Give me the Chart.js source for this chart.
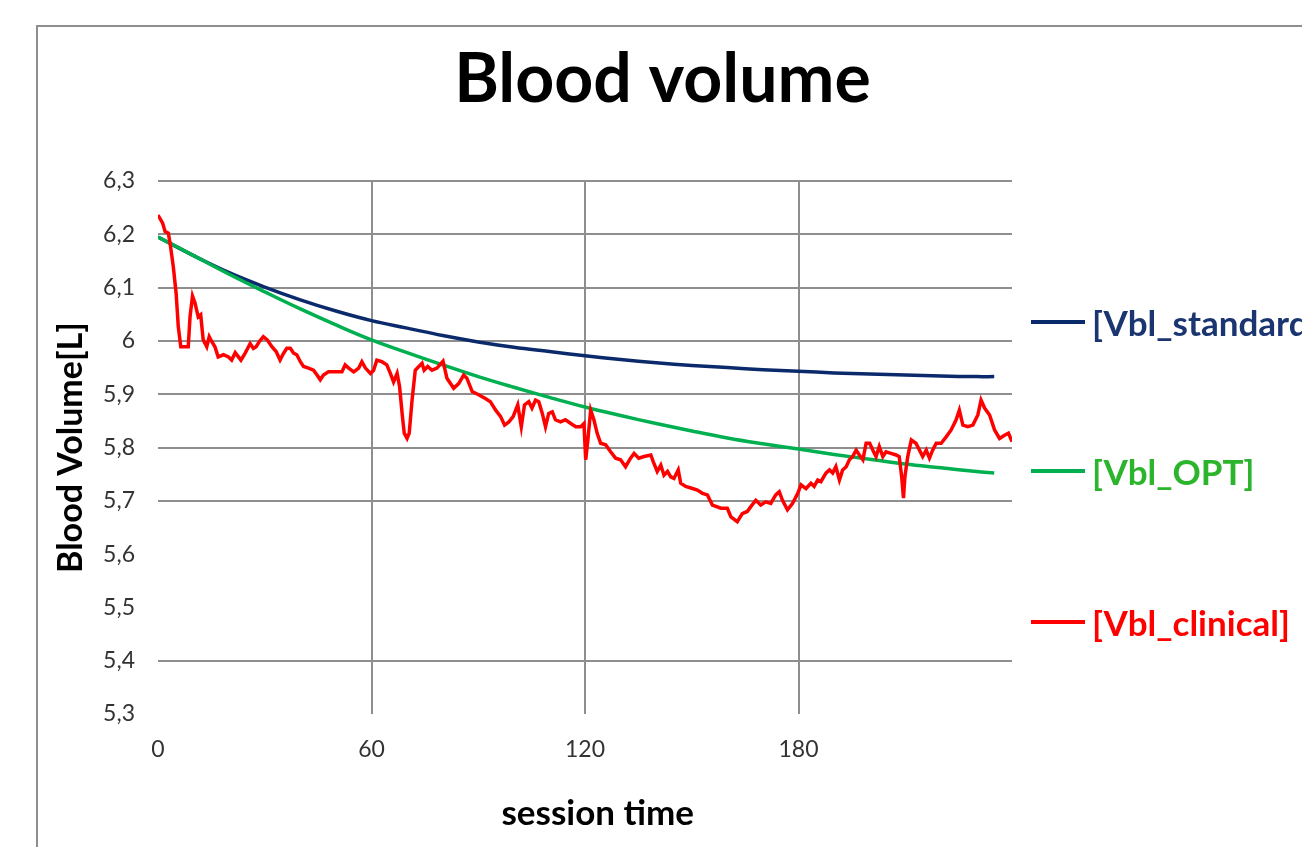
<!DOCTYPE html>
<html><head><meta charset="utf-8">
<script src="https://cdn.jsdelivr.net/npm/chart.js@4"></script>
<style>
html,body{margin:0;padding:0;background:#fff;overflow:hidden;width:1302px;height:847px;}
#frame{position:absolute;left:36px;top:25px;width:1400px;height:1000px;border:2px solid #8e8e8e;box-sizing:border-box;}
#c{position:absolute;left:0;top:0;}
</style></head><body>
<div id="frame"></div>
<canvas id="c" width="1325" height="870"></canvas>
<script>
// ---- data ----
const chartTitle = 'Blood volume';
const xAxisTitle = 'session time';
const yAxisTitle = 'Blood Volume[L]';
const xTickValues = [0, 60, 120, 180];
const seriesLabels = ['[Vbl_standard]', '[Vbl_OPT]', '[Vbl_clinical]'];

const modelTime = [0,10,20,30,40,50,60,70,80,90,100,110,120,130,140,150,160,170,180,190,200,210,220,230,235];
const standardValues = [6.195,6.160,6.128,6.101,6.077,6.056,6.038,6.024,6.010,5.998,5.988,5.980,5.972,5.965,5.959,5.954,5.950,5.946,5.943,5.940,5.938,5.936,5.934,5.933,5.933];
const optValues = [6.195,6.160,6.125,6.092,6.060,6.030,6.002,5.978,5.955,5.933,5.913,5.894,5.876,5.860,5.845,5.831,5.818,5.807,5.797,5.787,5.778,5.769,5.762,5.755,5.752];

const clinicalTime = [0,1.3,2.0,2.9,3.4,4.3,5.1,5.7,6.4,7.6,8.5,9.0,9.7,10.4,11.3,12.0,12.7,13.7,14.4,15.1,16.0,16.9,18.4,19.8,20.7,21.7,22.6,23.3,24.5,25.9,26.8,27.6,28.5,29.6,30.7,32.0,33.2,34.3,35.3,36.2,37.2,38.1,39.0,40.0,40.9,42.3,43.7,44.7,45.6,46.5,47.9,49.8,51.7,52.6,53.6,55.0,56.4,57.3,58.3,59.7,60.6,61.5,62.9,64.3,65.3,66.2,67.2,67.9,68.6,69.2,70.0,70.6,71.4,72.3,73.3,74.2,74.8,75.8,77.0,78.4,80.1,81.2,83.1,84.5,85.9,86.8,88.3,90.1,92.0,93.4,94.9,96.3,97.4,98.6,99.8,101.1,102.1,103.0,104.2,105.1,106.1,107.0,108.0,108.9,109.8,110.8,111.7,113.1,114.5,116.0,117.4,118.8,119.7,120.2,120.8,121.6,122.5,123.4,124.4,125.8,127.2,128.6,130.0,131.4,132.8,133.8,135.1,136.6,138.5,139.2,140.3,141.3,142.2,143.2,144.1,145.0,146.2,146.9,148.3,150.2,151.6,153.0,154.4,155.8,158.2,160.0,161.0,162.8,164.2,165.6,166.6,168.0,169.4,170.8,172.2,173.6,174.6,175.5,176.9,178.3,179.8,180.7,182.1,183.5,184.4,185.4,186.3,187.7,188.7,189.6,190.5,191.5,192.4,193.4,194.3,195.2,196.2,197.1,198.1,199.0,200.0,200.9,201.8,202.7,203.7,204.6,206.0,207.4,208.3,209.0,209.5,209.9,210.7,211.7,213.0,214.0,214.9,215.9,216.8,217.7,218.7,220.1,221.5,222.9,224.3,225.2,226.2,227.6,229.0,230.4,231.3,232.3,233.7,235.1,236.5,237.9,239.0,240.0];
const clinicalValues = [6.236,6.221,6.205,6.202,6.183,6.139,6.089,6.027,5.989,5.989,5.989,6.045,6.084,6.071,6.045,6.049,6.002,5.989,6.008,5.999,5.989,5.970,5.974,5.970,5.964,5.978,5.970,5.964,5.977,5.995,5.986,5.989,5.999,6.008,6.002,5.989,5.980,5.964,5.977,5.986,5.986,5.977,5.974,5.961,5.952,5.949,5.945,5.936,5.927,5.936,5.942,5.942,5.942,5.955,5.949,5.942,5.949,5.961,5.949,5.939,5.945,5.964,5.961,5.955,5.939,5.923,5.939,5.914,5.864,5.827,5.817,5.827,5.889,5.945,5.952,5.958,5.945,5.952,5.945,5.949,5.962,5.930,5.911,5.920,5.936,5.930,5.905,5.899,5.892,5.886,5.870,5.858,5.842,5.848,5.858,5.880,5.839,5.880,5.886,5.874,5.889,5.886,5.864,5.839,5.864,5.867,5.852,5.848,5.852,5.845,5.839,5.839,5.845,5.777,5.814,5.870,5.852,5.827,5.808,5.805,5.792,5.780,5.777,5.764,5.780,5.789,5.780,5.783,5.786,5.773,5.755,5.767,5.748,5.755,5.745,5.742,5.758,5.733,5.727,5.723,5.720,5.714,5.711,5.692,5.686,5.686,5.670,5.661,5.676,5.680,5.689,5.701,5.692,5.698,5.695,5.711,5.717,5.701,5.683,5.695,5.714,5.730,5.723,5.733,5.727,5.739,5.736,5.752,5.758,5.752,5.764,5.739,5.758,5.764,5.777,5.783,5.795,5.786,5.777,5.808,5.808,5.795,5.783,5.802,5.783,5.792,5.789,5.786,5.783,5.745,5.705,5.745,5.783,5.814,5.808,5.795,5.783,5.795,5.780,5.795,5.808,5.808,5.820,5.833,5.852,5.870,5.842,5.839,5.842,5.861,5.889,5.874,5.861,5.833,5.817,5.823,5.827,5.811];

// ---- styles ----
const colStandard = '#0b2a6b', colOpt = '#00b050', colClinical = '#ff0000';
const txtStandard = '#1a3570', txtOpt = '#2cb52c', txtClinical = '#ff0000';
const gridCol = '#8e8e8e';
const hiddenGrid = [5.3, 5.5, 5.6];

function pts(xs, ys){ return xs.map((x,i)=>({x:x, y:ys[i]})); }

const sideLegend = {
  id: 'sideLegend',
  afterDraw(chart){
    const {ctx, chartArea:a} = chart;
    const fr = [0.2645, 0.544, 0.827];
    const items = [
      {label: seriesLabels[0], line: colStandard, text: txtStandard},
      {label: seriesLabels[1], line: colOpt, text: txtOpt},
      {label: seriesLabels[2], line: colClinical, text: txtClinical}
    ];
    ctx.save();
    ctx.font = 'bold 35px Lato';
    ctx.textBaseline = 'middle';
    ctx.textAlign = 'left';
    items.forEach((it,i)=>{
      const y = Math.round(a.top + fr[i]*(a.bottom - a.top));
      ctx.strokeStyle = it.line; ctx.lineWidth = 4; ctx.lineCap = 'butt';
      ctx.beginPath(); ctx.moveTo(a.right + 19, y); ctx.lineTo(a.right + 73, y); ctx.stroke();
      ctx.fillStyle = it.text;
      ctx.fillText(it.label, a.right + 80, y + 3);
    });
    ctx.restore();
  }
};

function build(){
  Chart.defaults.font.family = 'Lato';
  new Chart(document.getElementById('c'), {
    type: 'line',
    data: {
      datasets: [
        {label: seriesLabels[0], data: pts(modelTime, standardValues), borderColor: colStandard, borderWidth: 3.5, pointRadius: 0, tension: 0.4, order: 3},
        {label: seriesLabels[1], data: pts(modelTime, optValues), borderColor: colOpt, borderWidth: 3.5, pointRadius: 0, tension: 0.4, order: 2},
        {label: seriesLabels[2], data: pts(clinicalTime, clinicalValues), borderColor: colClinical, borderWidth: 3.5, pointRadius: 0, tension: 0, order: 1}
      ]
    },
    options: {
      responsive: false,
      devicePixelRatio: 1,
      animation: false,
      events: [],
      layout: {padding: 0},
      plugins: {
        legend: {display: false},
        tooltip: {enabled: false},
        title: {display: true, text: chartTitle, color: '#000',
          font: {family: 'Lato', size: 68, weight: 'bold'},
          padding: {top: 39, bottom: 60.4}}
      },
      scales: {
        x: {
          type: 'linear', min: 0, max: 240,
          afterBuildTicks(s){ s.ticks = xTickValues.map(v=>({value:v})); },
          afterFit(s){ s.height = 156; },
          border: {display: false},
          grid: {drawTicks: false, lineWidth: 2,
            color: c => (c.tick && c.tick.value === 0) ? 'rgba(0,0,0,0)' : gridCol},
          ticks: {color: '#333', font: {size: 23}, padding: 22, maxRotation: 0,
            callback: v => String(v)},
          title: {display: true, text: '   ' + xAxisTitle, color: '#000',
            font: {family: 'Lato', size: 35, weight: 'bold'},
            padding: {top: 0, bottom: 35}}
        },
        y: {
          min: 5.3, max: 6.3,
          ticks: {stepSize: 0.1, color: '#333', font: {size: 23}, padding: 23,
            callback: v => String(Math.round(v*10)/10).replace('.', ',')},
          afterFit(s){ s.width = 158; },
          border: {display: false},
          grid: {drawTicks: false, lineWidth: 2,
            color: c => {
              if (!c.tick) return gridCol;
              const v = Math.round(c.tick.value*10)/10;
              return hiddenGrid.includes(v) ? 'rgba(0,0,0,0)' : gridCol;
            }},
          title: {display: true, text: yAxisTitle, color: '#000',
            font: {family: 'Lato', size: 34, weight: 'bold'},
            padding: {top: 51, bottom: 0}}
        },
        legendSpace: {
          position: 'right', min: 5.3, max: 6.3,
          afterFit(s){ s.width = 313; },
          border: {display: false},
          grid: {display: false, drawOnChartArea: false},
          ticks: {display: false}
        }
      }
    },
    plugins: [sideLegend]
  });
}

const fl = document.fonts ? Promise.all([
  document.fonts.load('bold 68px Lato'),
  document.fonts.load('bold 35px Lato'),
  document.fonts.load('23px Lato')
]).catch(()=>{}) : Promise.resolve();
fl.then(build, build);
</script>
</body></html>
